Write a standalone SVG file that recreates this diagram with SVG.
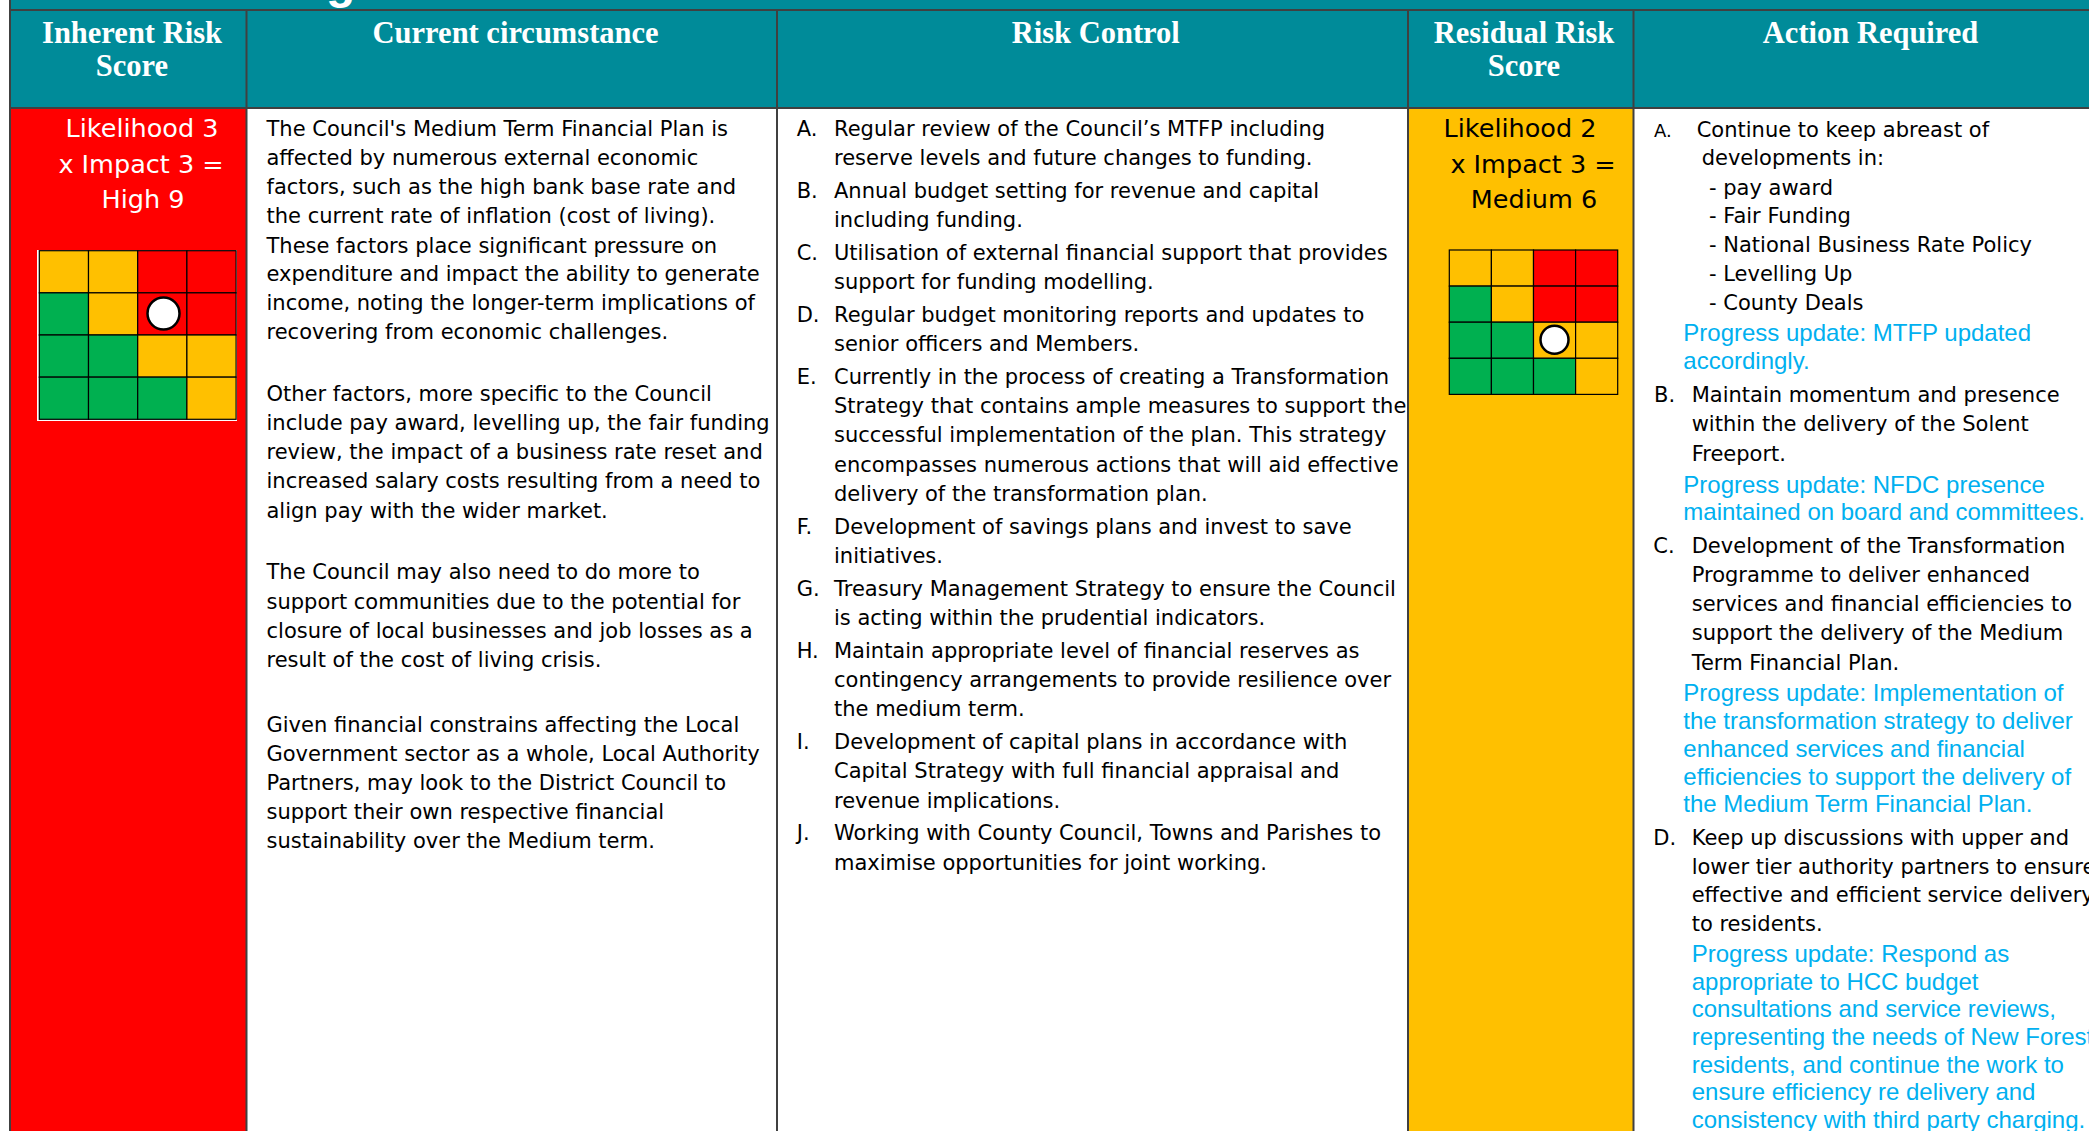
<svg xmlns="http://www.w3.org/2000/svg" width="2089" height="1131" viewBox="0 0 2089 1131">
<defs>
<style>
.hdr{font-family:"Liberation Serif","DejaVu Serif",serif;font-weight:bold;font-size:30.5px;fill:#fff;text-anchor:middle}
.bt{font-family:"DejaVu Sans","Liberation Sans",sans-serif;font-size:21px;fill:#000}
.sm{font-family:"DejaVu Sans","Liberation Sans",sans-serif;font-size:18px;fill:#000}
.bl{font-family:"Liberation Sans",Arial,sans-serif;font-size:24px;fill:#00B0F0}
.sc{font-family:"DejaVu Sans","Liberation Sans",sans-serif;font-size:25.5px;text-anchor:middle}
.tl line{stroke:#404040;stroke-width:2}
.mx rect{stroke:#000;stroke-width:1.2}
.g{fill:#00B050}.a{fill:#FFC000}.r{fill:#FF0000}
.dot{fill:#fff;stroke:#000;stroke-width:2.5}
</style>
</defs>
<rect x="0" y="0" width="2089" height="1131" fill="#fff"/>
<g id="title-bar">
<rect x="10" y="0" width="2079" height="10" fill="#008B99"/>
<text x="326" y="-2" style="font-family:'Liberation Sans',sans-serif;font-weight:bold;font-size:48px;fill:#fff">g</text>
</g>
<g id="header">
<rect x="10" y="10" width="2079" height="98" fill="#008B99"/>
<text class="hdr" x="132" y="43">Inherent Risk</text>
<text class="hdr" x="132" y="76">Score</text>
<text class="hdr" x="515.6" y="43">Current circumstance</text>
<text class="hdr" x="1095.8" y="43">Risk Control</text>
<text class="hdr" x="1524" y="43">Residual Risk</text>
<text class="hdr" x="1524" y="76">Score</text>
<text class="hdr" x="1870.6" y="43">Action Required</text>
</g>
<g id="inherent-score">
<rect x="10" y="108" width="236.5" height="1023" fill="#FF0000"/>
<text class="sc" x="142" y="137" fill="#fff">Likelihood 3</text>
<text class="sc" x="141" y="172.5" fill="#fff">x Impact 3 =</text>
<text class="sc" x="143" y="208" fill="#fff">High 9</text>
<rect x="37" y="250" width="200" height="171" fill="#fff"/>
<g class="mx">
<rect class="a" x="39.3" y="250.7" width="49.2" height="42.15"/>
<rect class="a" x="88.5" y="250.7" width="49.2" height="42.15"/>
<rect class="r" x="137.7" y="250.7" width="49.2" height="42.15"/>
<rect class="r" x="186.9" y="250.7" width="49.2" height="42.15"/>
<rect class="g" x="39.3" y="292.85" width="49.2" height="42.15"/>
<rect class="a" x="88.5" y="292.85" width="49.2" height="42.15"/>
<rect class="r" x="137.7" y="292.85" width="49.2" height="42.15"/>
<rect class="r" x="186.9" y="292.85" width="49.2" height="42.15"/>
<rect class="g" x="39.3" y="335" width="49.2" height="42.15"/>
<rect class="g" x="88.5" y="335" width="49.2" height="42.15"/>
<rect class="a" x="137.7" y="335" width="49.2" height="42.15"/>
<rect class="a" x="186.9" y="335" width="49.2" height="42.15"/>
<rect class="g" x="39.3" y="377.15" width="49.2" height="42.15"/>
<rect class="g" x="88.5" y="377.15" width="49.2" height="42.15"/>
<rect class="g" x="137.7" y="377.15" width="49.2" height="42.15"/>
<rect class="a" x="186.9" y="377.15" width="49.2" height="42.15"/>
</g>
<circle class="dot" cx="163.5" cy="313.5" r="16"/>
</g>
<g id="current-circumstance">
<text class="bt" x="266.5" y="135.5">The Council's Medium Term Financial Plan is</text>
<text class="bt" x="266.5" y="164.8">affected by numerous external economic</text>
<text class="bt" x="266.5" y="194.1">factors, such as the high bank base rate and</text>
<text class="bt" x="266.5" y="223.4">the current rate of inflation (cost of living).</text>
<text class="bt" x="266.5" y="252.7">These factors place significant pressure on</text>
<text class="bt" x="266.5" y="281">expenditure and impact the ability to generate</text>
<text class="bt" x="266.5" y="310.2">income, noting the longer-term implications of</text>
<text class="bt" x="266.5" y="339.4">recovering from economic challenges.</text>
<text class="bt" x="266.5" y="400.8">Other factors, more specific to the Council</text>
<text class="bt" x="266.5" y="430">include pay award, levelling up, the fair funding</text>
<text class="bt" x="266.5" y="459.2">review, the impact of a business rate reset and</text>
<text class="bt" x="266.5" y="488.4">increased salary costs resulting from a need to</text>
<text class="bt" x="266.5" y="517.6">align pay with the wider market.</text>
<text class="bt" x="266.5" y="579.3">The Council may also need to do more to</text>
<text class="bt" x="266.5" y="608.5">support communities due to the potential for</text>
<text class="bt" x="266.5" y="637.7">closure of local businesses and job losses as a</text>
<text class="bt" x="266.5" y="666.5">result of the cost of living crisis.</text>
<text class="bt" x="266.5" y="732">Given financial constrains affecting the Local</text>
<text class="bt" x="266.5" y="761">Government sector as a whole, Local Authority</text>
<text class="bt" x="266.5" y="790">Partners, may look to the District Council to</text>
<text class="bt" x="266.5" y="819">support their own respective financial</text>
<text class="bt" x="266.5" y="848">sustainability over the Medium term.</text>
</g>
<g id="risk-control">
<text class="bt" x="796.7" y="135.5">A.</text>
<text class="bt" x="834" y="135.5">Regular review of the Council’s MTFP including</text>
<text class="bt" x="834" y="164.7">reserve levels and future changes to funding.</text>
<text class="bt" x="796.7" y="197.6">B.</text>
<text class="bt" x="834" y="197.6">Annual budget setting for revenue and capital</text>
<text class="bt" x="834" y="226.8">including funding.</text>
<text class="bt" x="796.7" y="259.7">C.</text>
<text class="bt" x="834" y="259.7">Utilisation of external financial support that provides</text>
<text class="bt" x="834" y="288.9">support for funding modelling.</text>
<text class="bt" x="796.7" y="321.8">D.</text>
<text class="bt" x="834" y="321.8">Regular budget monitoring reports and updates to</text>
<text class="bt" x="834" y="351">senior officers and Members.</text>
<text class="bt" x="796.7" y="383.9">E.</text>
<text class="bt" x="834" y="383.9">Currently in the process of creating a Transformation</text>
<text class="bt" x="834" y="413.1">Strategy that contains ample measures to support the</text>
<text class="bt" x="834" y="442.3">successful implementation of the plan. This strategy</text>
<text class="bt" x="834" y="471.5">encompasses numerous actions that will aid effective</text>
<text class="bt" x="834" y="500.7">delivery of the transformation plan.</text>
<text class="bt" x="796.7" y="533.6">F.</text>
<text class="bt" x="834" y="533.6">Development of savings plans and invest to save</text>
<text class="bt" x="834" y="562.8">initiatives.</text>
<text class="bt" x="796.7" y="595.7">G.</text>
<text class="bt" x="834" y="595.7">Treasury Management Strategy to ensure the Council</text>
<text class="bt" x="834" y="624.9">is acting within the prudential indicators.</text>
<text class="bt" x="796.7" y="657.8">H.</text>
<text class="bt" x="834" y="657.8">Maintain appropriate level of financial reserves as</text>
<text class="bt" x="834" y="687">contingency arrangements to provide resilience over</text>
<text class="bt" x="834" y="716.2">the medium term.</text>
<text class="bt" x="796.7" y="749.1">I.</text>
<text class="bt" x="834" y="749.1">Development of capital plans in accordance with</text>
<text class="bt" x="834" y="778.3">Capital Strategy with full financial appraisal and</text>
<text class="bt" x="834" y="807.5">revenue implications.</text>
<text class="bt" x="796.7" y="840.4">J.</text>
<text class="bt" x="834" y="840.4">Working with County Council, Towns and Parishes to</text>
<text class="bt" x="834" y="869.6">maximise opportunities for joint working.</text>
</g>
<g id="residual-score">
<rect x="1408" y="108" width="225.5" height="1023" fill="#FFC000"/>
<text class="sc" x="1520" y="137" fill="#000">Likelihood 2</text>
<text class="sc" x="1533" y="172.5" fill="#000">x Impact 3 =</text>
<text class="sc" x="1534" y="208" fill="#000">Medium 6</text>
<g class="mx">
<rect class="a" x="1449.3" y="250" width="42.1" height="36.1"/>
<rect class="a" x="1491.4" y="250" width="42.1" height="36.1"/>
<rect class="r" x="1533.5" y="250" width="42.1" height="36.1"/>
<rect class="r" x="1575.6" y="250" width="42.1" height="36.1"/>
<rect class="g" x="1449.3" y="286.1" width="42.1" height="36.1"/>
<rect class="a" x="1491.4" y="286.1" width="42.1" height="36.1"/>
<rect class="r" x="1533.5" y="286.1" width="42.1" height="36.1"/>
<rect class="r" x="1575.6" y="286.1" width="42.1" height="36.1"/>
<rect class="g" x="1449.3" y="322.2" width="42.1" height="36.1"/>
<rect class="g" x="1491.4" y="322.2" width="42.1" height="36.1"/>
<rect class="a" x="1533.5" y="322.2" width="42.1" height="36.1"/>
<rect class="a" x="1575.6" y="322.2" width="42.1" height="36.1"/>
<rect class="g" x="1449.3" y="358.3" width="42.1" height="36.1"/>
<rect class="g" x="1491.4" y="358.3" width="42.1" height="36.1"/>
<rect class="g" x="1533.5" y="358.3" width="42.1" height="36.1"/>
<rect class="a" x="1575.6" y="358.3" width="42.1" height="36.1"/>
</g>
<circle class="dot" cx="1554.5" cy="339.8" r="14"/>
</g>
<g id="action-required">
<text class="sm" x="1654" y="136.7">A.</text>
<text class="bt" x="1696.7" y="136.7">Continue to keep abreast of</text>
<text class="bt" x="1701.7" y="165">developments in:</text>
<text class="bt" x="1709" y="194.5">- pay award</text>
<text class="bt" x="1709" y="223.4">- Fair Funding</text>
<text class="bt" x="1709" y="251.7">- National Business Rate Policy</text>
<text class="bt" x="1709" y="281">- Levelling Up</text>
<text class="bt" x="1709" y="310">- County Deals</text>
<text class="bl" x="1683.3" y="340.5">Progress update: MTFP updated</text>
<text class="bl" x="1683.3" y="368.5">accordingly.</text>
<text class="bt" x="1654" y="401.8">B.</text>
<text class="bt" x="1691.7" y="401.8">Maintain momentum and presence</text>
<text class="bt" x="1691.7" y="430.7">within the delivery of the Solent</text>
<text class="bt" x="1691.7" y="460.6">Freeport.</text>
<text class="bl" x="1683.3" y="493">Progress update: NFDC presence</text>
<text class="bl" x="1683.3" y="520.3">maintained on board and committees.</text>
<text class="bt" x="1653.3" y="553">C.</text>
<text class="bt" x="1691.7" y="553">Development of the Transformation</text>
<text class="bt" x="1691.7" y="582.2">Programme to deliver enhanced</text>
<text class="bt" x="1691.7" y="611.4">services and financial efficiencies to</text>
<text class="bt" x="1691.7" y="640.2">support the delivery of the Medium</text>
<text class="bt" x="1691.7" y="669.5">Term Financial Plan.</text>
<text class="bl" x="1683.3" y="701">Progress update: Implementation of</text>
<text class="bl" x="1683.3" y="729">the transformation strategy to deliver</text>
<text class="bl" x="1683.3" y="756.5">enhanced services and financial</text>
<text class="bl" x="1683.3" y="784.6">efficiencies to support the delivery of</text>
<text class="bl" x="1683.3" y="812">the Medium Term Financial Plan.</text>
<text class="bt" x="1653.3" y="844.6">D.</text>
<text class="bt" x="1691.7" y="844.6">Keep up discussions with upper and</text>
<text class="bt" x="1691.7" y="873.5">lower tier authority partners to ensure</text>
<text class="bt" x="1691.7" y="902.3">effective and efficient service delivery</text>
<text class="bt" x="1691.7" y="930.5">to residents.</text>
<text class="bl" x="1691.7" y="962.3">Progress update: Respond as</text>
<text class="bl" x="1691.7" y="990.4">appropriate to HCC budget</text>
<text class="bl" x="1691.7" y="1017.4">consultations and service reviews,</text>
<text class="bl" x="1691.7" y="1045.3">representing the needs of New Forest</text>
<text class="bl" x="1691.7" y="1073.4">residents, and continue the work to</text>
<text class="bl" x="1691.7" y="1100">ensure efficiency re delivery and</text>
<text class="bl" x="1691.7" y="1127.6">consistency with third party charging.</text>
</g>
<g id="table-lines" class="tl">
<line x1="10" y1="0" x2="10" y2="1131"/>
<line x1="10" y1="10" x2="2089" y2="10"/>
<line x1="10" y1="108" x2="2089" y2="108"/>
<line x1="246.5" y1="10" x2="246.5" y2="1131"/>
<line x1="777" y1="10" x2="777" y2="1131"/>
<line x1="1408" y1="10" x2="1408" y2="1131"/>
<line x1="1633.5" y1="10" x2="1633.5" y2="1131"/>
</g>
</svg>
